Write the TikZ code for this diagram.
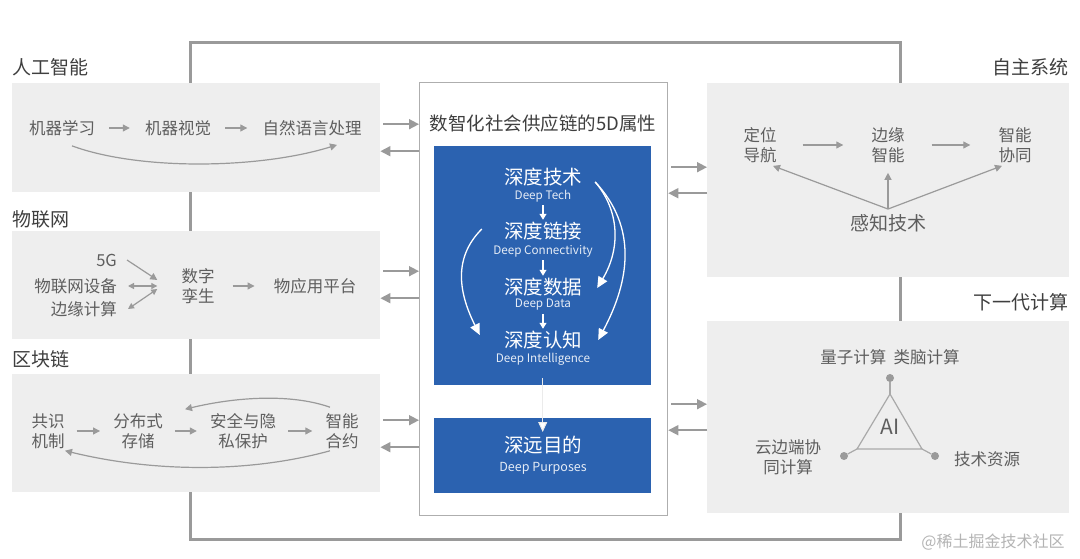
\documentclass[tikz,border=0pt]{standalone}
\usepackage{fontspec}
\setmainfont{Noto Sans CJK SC}
\usetikzlibrary{arrows.meta}
\definecolor{boxbg}{HTML}{EEEEEE}
\definecolor{lnc}{HTML}{9A9A9A}
\definecolor{txc}{HTML}{5E5E5E}
\definecolor{ttc}{HTML}{3F3F3F}
\definecolor{deepblue}{HTML}{2B62B0}
\definecolor{wmc}{HTML}{B4B4B4}
\tikzset{
  panel/.style={fill=boxbg, draw=none, inner sep=0pt, anchor=north west},
  bluebox/.style={fill=deepblue, draw=none, inner sep=0pt, anchor=north west},
  corebox/.style={fill=white, draw=lnc!80, line width=1.3pt, inner sep=0pt, anchor=north west},
  cat/.style={font=\fontsize{19}{22}\selectfont, text=ttc, inner sep=0pt},
  item/.style={font=\fontsize{16.5}{20}\selectfont, text=txc, align=center, inner sep=0pt},
  bigitem/.style={font=\fontsize{19}{22}\selectfont, text=txc, align=center, inner sep=0pt},
  zh/.style={font=\fontsize{19.5}{22}\selectfont, text=white, inner sep=0pt},
  en/.style={font=\fontsize{11.7}{13}\selectfont, text=white!88!deepblue, inner sep=0pt},
  link/.style={draw=lnc, line width=1.6pt, -{Triangle[length=10pt,width=10pt]}},
  flow/.style={draw=lnc, line width=1.2pt, -{Triangle[length=7pt,width=7pt]}},
  dflow/.style={draw=lnc, line width=1.2pt, {Triangle[length=6pt,width=6pt]}-{Triangle[length=6pt,width=6pt]}},
  wflow/.style={draw=white, line width=1.3pt, -{Triangle[length=11pt,width=10pt]}},
  wsmall/.style={draw=white, line width=1.1pt, -{Triangle[length=6pt,width=7pt]}},
  dotnode/.style={circle, fill=lnc, inner sep=0pt, minimum size=8pt},
  tri/.style={draw=lnc!85, line width=1.2pt},
}
\begin{document}
\begin{tikzpicture}[x=1pt,y=-1pt]
\useasboundingbox[fill=white] (0,0) rectangle (1080,559);

% outer frame
\draw[lnc, line width=3pt] (190,43) rectangle (900,539);

% panels
\node[panel, minimum width=368pt, minimum height=109pt] (ai) at (12,83) {};
\node[panel, minimum width=368pt, minimum height=108pt] (iot) at (12,231) {};
\node[panel, minimum width=368pt, minimum height=118pt] (bc) at (12,374) {};
\node[panel, minimum width=362pt, minimum height=194pt] (auto) at (707,83) {};
\node[panel, minimum width=362pt, minimum height=192pt] (ngc) at (707,321) {};
\node[corebox, minimum width=248pt, minimum height=433pt] (core) at (419,82) {};
\node[bluebox, minimum width=217pt, minimum height=239pt] (blue1) at (434,146) {};
\node[bluebox, minimum width=217pt, minimum height=75pt] (blue2) at (434,418) {};

% category titles
\node[cat, anchor=west] (tai) at (12,67) {人工智能};
\node[cat, anchor=west] (tiot) at (12,219) {物联网};
\node[cat, anchor=west] (tbc) at (12,359) {区块链};
\node[cat, anchor=east] (tauto) at (1069,67) {自主系统};
\node[cat, anchor=east] (tngc) at (1069,302) {下一代计算};

% connectors between panels and core
\coordinate (a1) at ([xshift=3pt,yshift=13.5pt]ai.east);
\coordinate (a2) at ([yshift=-13.5pt]core.west |- ai.east);
\draw[link] (a1) -- (a1 -| core.west);
\draw[link] (a2) -- (a2 -| ai.east);
\coordinate (b1) at ([xshift=3pt,yshift=14pt]iot.east);
\coordinate (b2) at ([yshift=-13pt]core.west |- iot.east);
\draw[link] (b1) -- (b1 -| core.west);
\draw[link] (b2) -- (b2 -| iot.east);
\coordinate (c1) at ([xshift=3pt,yshift=13pt]bc.east);
\coordinate (c2) at ([yshift=-14pt]core.west |- bc.east);
\draw[link] (c1) -- (c1 -| core.west);
\draw[link] (c2) -- (c2 -| bc.east);
\coordinate (d1) at ([xshift=3pt,yshift=13pt]core.east |- auto.west);
\coordinate (d2) at ([yshift=-13pt]auto.west);
\draw[link] (d1) -- (d1 -| auto.west);
\draw[link] (d2) -- (d2 -| core.east);
\coordinate (e1) at ([xshift=3pt,yshift=13pt]core.east |- ngc.west);
\coordinate (e2) at ([yshift=-13pt]ngc.west);
\draw[link] (e1) -- (e1 -| ngc.west);
\draw[link] (e2) -- (e2 -| core.east);

% AI panel
\node[item] (ml) at (62,128) {机器学习};
\node[item] (mv) at (178,128) {机器视觉};
\node[item] (nlp) at (312,128) {自然语言处理};
\draw[flow, shorten <=14pt, shorten >=15pt] (ml) -- (mv);
\draw[flow, shorten <=14pt, shorten >=15pt] (mv) -- (nlp);
\draw[flow] ([xshift=10pt,yshift=-10pt]ml.south) .. controls +(68,25) and +(-77,24) .. ([xshift=25pt,yshift=-9pt]nlp.south);

% IoT panel
\node[item, anchor=east] (g5) at (117,260) {5G};
\node[item, anchor=east] (dev) at (117,286) {物联网设备};
\node[item, anchor=east] (edge) at (117,309) {边缘计算};
\node[item] (twin) at (198,286) {数字\\孪生};
\node[item] (plat) at (315,286) {物应用平台};
\draw[flow] ([xshift=10pt]g5.east) -- ([xshift=-24pt,yshift=6pt]twin.west);
\draw[dflow] ([xshift=11pt]dev.east) -- ([xshift=-24pt]twin.west);
\draw[dflow] ([xshift=11pt]edge.east) -- ([xshift=-24pt,yshift=-3pt]twin.west);
\draw[flow, shorten <=18pt, shorten >=19pt] (twin) -- (plat);

% Blockchain panel
\node[item] (cons) at (48,431) {共识\\机制};
\node[item] (dist) at (138,431) {分布式\\存储};
\node[item] (sec) at (243,431) {安全与隐\\私保护};
\node[item] (smart) at (342,431) {智能\\合约};
\draw[flow, shorten <=12pt, shorten >=13pt] (cons) -- (dist);
\draw[flow, shorten <=12pt, shorten >=13pt] (dist) -- (sec);
\draw[flow, shorten <=12pt, shorten >=13pt] (sec) -- (smart);
\draw[flow] ([xshift=-12pt,yshift=6pt]smart.north) .. controls +(-40,-14) and +(50,-12) .. ([xshift=47pt,yshift=4pt]dist.north);
\draw[flow] ([xshift=-12pt,yshift=-2pt]smart.south) .. controls +(-80,22) and +(90,22) .. ([xshift=17pt,yshift=-2pt]cons.south);

% Core
\node[font=\fontsize{18.5}{20}\selectfont, text=ttc, inner sep=0pt] (coretitle) at (543,123) {数智化社会供应链的5D属性};
\node[zh] (t1) at (543,177) {深度技术};
\node[en] (n1) at (543,196) {Deep Tech};
\node[zh] (t2) at (543,231) {深度链接};
\node[en] (n2) at (543,251) {Deep Connectivity};
\node[zh] (t3) at (543,287) {深度数据};
\node[en] (n3) at (543,305) {Deep Data};
\node[zh] (t4) at (543,340) {深度认知};
\node[en] (n4) at (543,359) {Deep Intelligence};
\node[zh] (t5) at (543,445) {深远目的};
\node[en, font=\fontsize{12.5}{14}\selectfont] (n5) at (543,468) {Deep Purposes};
\draw[wsmall, shorten <=3pt, shorten >=2pt] (n1) -- (t2);
\draw[wsmall, shorten <=3pt, shorten >=2pt] (n2) -- (t3);
\draw[wsmall, shorten <=3pt, shorten >=2pt] (n3) -- (t4);
\draw[wflow] ([xshift=13pt,yshift=-5pt]t1.east) .. controls +(24,28) and +(24,-40) .. ([xshift=15pt,yshift=-1pt]t3.east);
\draw[wflow] ([xshift=13pt,yshift=-5pt]t1.east) .. controls +(42,45) and +(32,-60) .. ([xshift=16pt]t4.east);
\draw[wflow] ([xshift=-22pt,yshift=2pt]t2.west) .. controls +(-30,30) and +(-20,-40) .. ([xshift=-24pt,yshift=5pt]t4.west);
\draw[draw=white!80!lnc, line width=1pt, -{Triangle[length=10pt,width=9pt,fill=white]}] ([yshift=7pt]blue1.south) -- ([yshift=-14pt]blue2.north);

% Autonomous panel
\node[item] (pn) at (760,145) {定位\\导航};
\node[item] (ei) at (888,145) {边缘\\智能};
\node[item] (sc) at (1015,145) {智能\\协同};
\node[bigitem] (st) at (888,223) {感知技术};
\draw[flow, shorten <=26pt, shorten >=28pt] (pn) -- (ei);
\draw[flow, shorten <=27pt, shorten >=28pt] (ei) -- (sc);
\draw[flow] ([yshift=5pt]st.north) -- ([xshift=13pt,yshift=-3pt]pn.south);
\draw[flow] ([yshift=5pt]st.north) -- ([yshift=-10pt]ei.south);
\draw[flow] ([yshift=5pt]st.north) -- ([xshift=-13pt,yshift=-3pt]sc.south);

% Next-gen computing panel
\node[item] (qb) at (890,357) {量子计算\hspace{0.45em}类脑计算};
\node[dotnode] (dq) at (890,378) {};
\node[dotnode] (dc) at (844,456) {};
\node[dotnode] (dr) at (935,456) {};
\coordinate (vt) at (890,394);
\coordinate (vl) at (857,449);
\coordinate (vr) at (922,449);
\draw[tri] (vt) -- (vl) -- (vr) -- cycle;
\draw[tri] (dq) -- (vt);
\draw[tri] (dc) -- (vl);
\draw[tri] (dr) -- (vr);
\node[font=\fontsize{21}{24}\selectfont, text=txc, inner sep=0pt] (ailabel) at (890,427) {AI};
\node[item] (cloud) at (788,457) {云边端协\\同计算};
\node[item] (tres) at (987,459) {技术资源};

% watermark
\node[font=\fontsize{16}{18}\selectfont, text=wmc, inner sep=0pt] (wm) at (993,542) {@稀土掘金技术社区};
\end{tikzpicture}
\end{document}
